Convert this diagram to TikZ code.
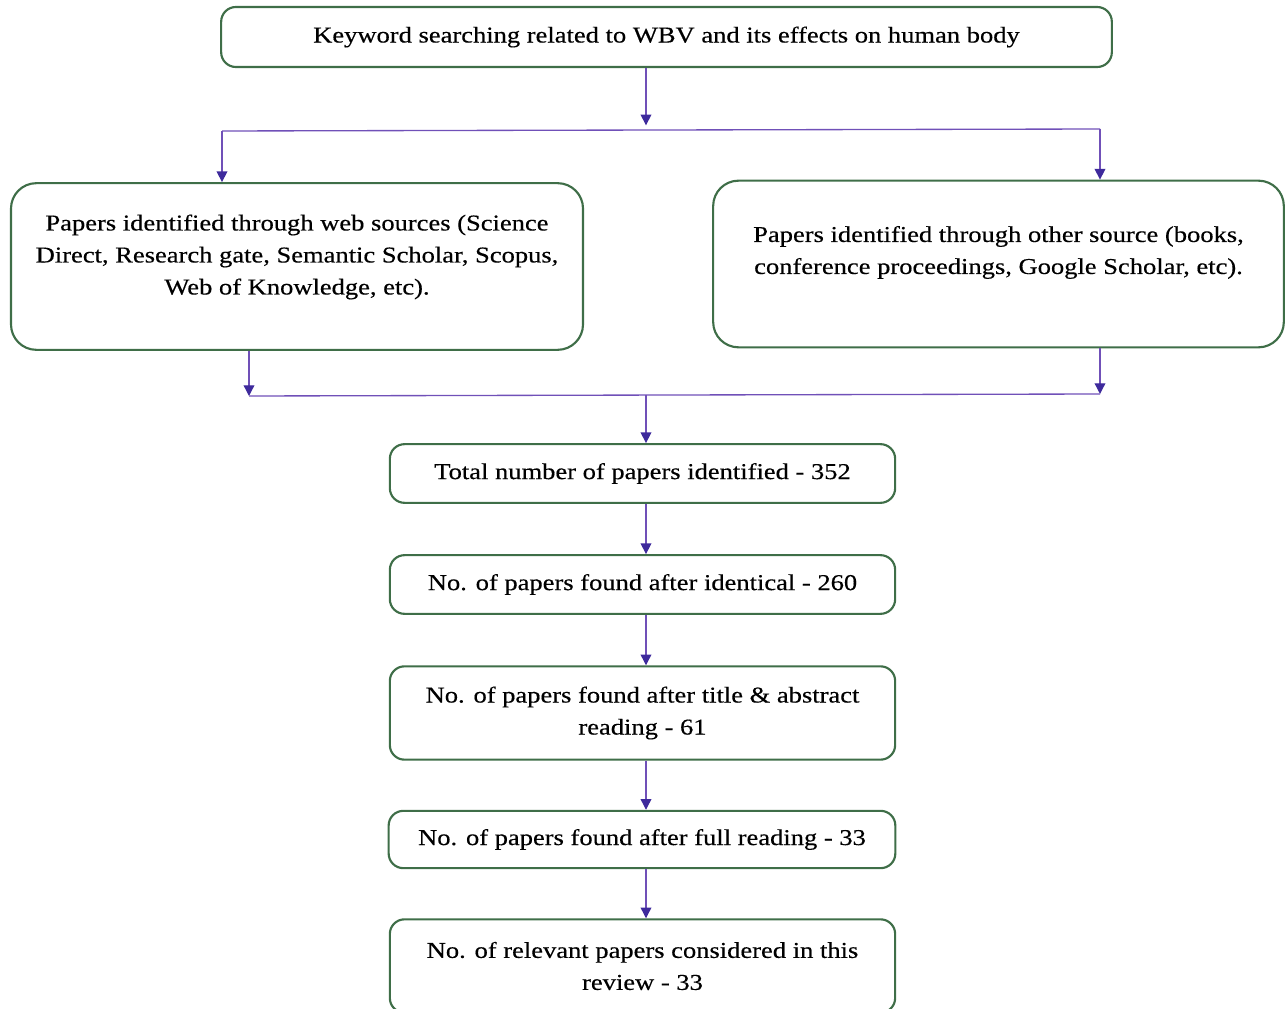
\documentclass[tikz,border=0pt]{standalone}
\usepackage{fontspec}
\setmainfont[FakeStretch=1.17,FakeBold=0.4]{Liberation Serif}
\usetikzlibrary{arrows.meta}
\definecolor{boxgreen}{HTML}{3F6E48}
\definecolor{linepurple}{HTML}{7050B8}
\definecolor{tippurple}{HTML}{3E2A9C}
\tikzset{
  stepbox/.style={draw=boxgreen, line width=1.6pt, rounded corners=11pt, align=center, inner sep=2pt, font=\fontsize{17}{24}\selectfont},
  flow/.style={draw=linepurple, line width=1pt, -{Triangle[width=8pt,length=8pt,color=tippurple]}},
  link/.style={draw=linepurple, line width=1pt}
}
\begin{document}
\begin{tikzpicture}[x=0.75pt,y=-0.75pt]
    \useasboundingbox (0,0) rectangle (1286,1009);
    % boxes
    \node (search) at (666.5,37) [stepbox, minimum width=668pt, minimum height=45pt] {Keyword searching related to WBV and its effects on human body};
    \node (web) at (297,266.5) [stepbox, rounded corners=19pt, minimum width=429pt, minimum height=125pt] {Papers identified through web sources (Science\\ Direct, Research gate, Semantic Scholar, Scopus,\\ Web of Knowledge, etc).\\[-6pt]};
    \node (other) at (998.5,264) [stepbox, rounded corners=19pt, minimum width=428pt, minimum height=125pt] {Papers identified through other source (books,\\ conference proceedings, Google Scholar, etc).\\[-3pt]};
    \node (total) at (642.5,473.5) [stepbox, minimum width=379pt, minimum height=44pt] {Total number of papers identified - 352};
    \node (ident) at (642.5,584.5) [stepbox, minimum width=379pt, minimum height=44pt] {No. of papers found after identical - 260};
    \node (title) at (642.5,713) [stepbox, minimum width=379pt, minimum height=70pt] {No. of papers found after title \& abstract\\ reading - 61};
    \node (full) at (642,839.5) [stepbox, minimum width=380pt, minimum height=43pt] {No. of papers found after full reading - 33};
    \node (final) at (642.5,966) [stepbox, minimum width=379pt, minimum height=70pt] {No. of relevant papers considered in this\\ review - 33};

    % split
    \coordinate (splitmid) at (646,130);
    \coordinate (splitleft) at (222,131);
    \coordinate (splitright) at (1100,129);
    \draw [flow] (search.south -| splitmid) -- ([yshift=3.5pt]splitmid);
    \draw [link] (splitleft) -- (splitright);
    \draw [flow] (splitleft) -- (web.north -| splitleft);
    \draw [flow] (splitright) -- (other.north -| splitright);

    % merge
    \coordinate (mergeleft) at (249,396);
    \coordinate (mergeright) at (1100,394);
    \coordinate (mergemid) at (646,395);
    \draw [flow] (web.south -| mergeleft) -- (mergeleft);
    \draw [flow] (other.south -| mergeright) -- (mergeright);
    \draw [link] (mergeleft) -- (mergeright);
    \draw [flow] (mergemid) -- (total.north -| mergemid);

    % chain
    \draw [flow] (total.south -| mergemid) -- (ident.north -| mergemid);
    \draw [flow] (ident.south -| mergemid) -- (title.north -| mergemid);
    \draw [flow] (title.south -| mergemid) -- (full.north -| mergemid);
    \draw [flow] (full.south -| mergemid) -- (final.north -| mergemid);
\end{tikzpicture}
\end{document}
